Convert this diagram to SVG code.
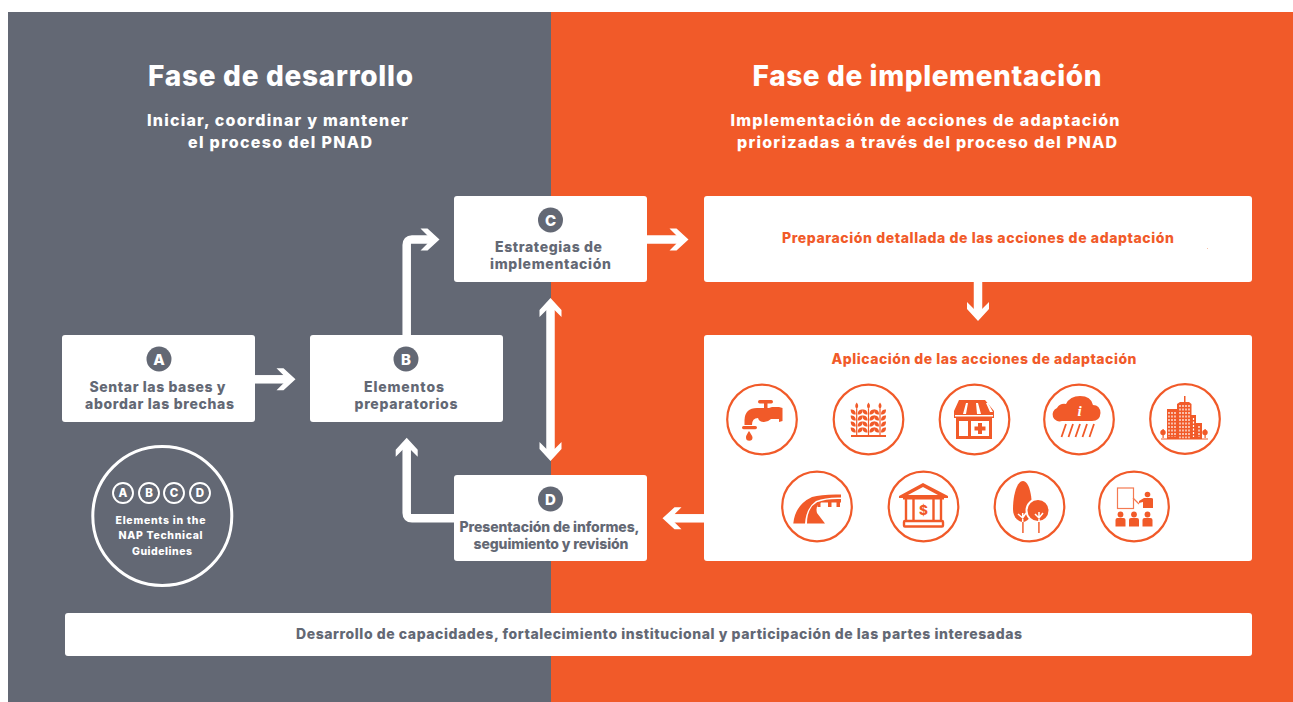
<svg xmlns="http://www.w3.org/2000/svg" width="1293" height="702" viewBox="0 0 1293 702">
<style>
text{font-family:"Inter","Roboto","Liberation Sans",sans-serif;font-weight:800;text-anchor:middle}
.w{fill:#fff}.g{fill:#636874}.o{fill:#f15a29}
.box{fill:#fff}
.t{font-size:14px;fill:#636874}
.h1{font-size:28px;fill:#fff}
.h2{font-size:16px;fill:#fff}
.ot{font-size:14px;fill:#f15a29}
.badge{font-size:15px;font-weight:800;fill:#fff}
.ring{fill:none;stroke:#f15a29;stroke-width:2.200}
.cw{fill:none;stroke:#fff;stroke-width:8.500}
.hd{fill:#fff}
.mini{fill:none;stroke:#fff;stroke-width:1.900}
.mt{font-size:10.500px;fill:#fff}
.s{font-size:11.500px;font-weight:800;fill:#fff}
.ol{fill:none;stroke:#f15a29}
</style>
<defs>
<path id="hd" class="hd" d="M0 0L-12-11H-19L-12-4V4L-19 11H-12Z"/>
<g id="wheat" class="o">
<path d="M-.6-27h1.200V0h-1.200Z"/>
<path d="M0-33C2-30.500 2-28.500 0-26.500C-2-28.500-2-30.500 0-33Z"/>
<g id="lp"><path d="M-1-21C-5-21-6-23-6-26C-3-26-1-25-1-21Z"/><path d="M1-21C5-21 6-23 6-26C3-26 1-25 1-21Z"/></g>
<use href="#lp" y="6"/><use href="#lp" y="12"/><use href="#lp" y="18"/>
</g>
<g id="person" class="o"><circle cx="0" cy="-6" r="2.900"/><path d="M-5 6V-.5Q-5-2.500-3-2.500H3Q5-2.500 5-.5V6Z"/></g>
</defs>
<rect id="bg-dev" x="8" y="12" width="543" height="690" class="g"/>
<rect id="bg-impl" x="551" y="12" width="742" height="690" class="o"/>
<g id="headings">
<text class="h1" x="280.500" y="86" textLength="265" lengthAdjust="spacing">Fase de desarrollo</text>
<text class="h2" x="277.500" y="126" textLength="261" lengthAdjust="spacing">Iniciar, coordinar y mantener</text>
<text class="h2" x="280" y="148" textLength="184" lengthAdjust="spacing">el proceso del PNAD</text>
<text class="h1" x="927" y="86" textLength="349" lengthAdjust="spacing">Fase de implementación</text>
<text class="h2" x="925" y="126" textLength="389" lengthAdjust="spacing">Implementación de acciones de adaptación</text>
<text class="h2" x="927" y="148" textLength="380" lengthAdjust="spacing">priorizadas a través del proceso del PNAD</text>
</g>
<g id="connectors">
<path class="cw" d="M255 379.300H284"/><use href="#hd" transform="translate(295.500 379.300)"/>
<path class="cw" d="M406.700 335V245Q406.700 239.500 412 239.500H429"/><use href="#hd" transform="translate(439.500 239.500)"/>
<path class="cw" d="M647 239.500H678"/><use href="#hd" transform="translate(688.500 239.500)"/>
<path class="cw" d="M978 282V310"/><use href="#hd" transform="translate(978 321) rotate(90)"/>
<path class="cw" d="M550.500 309V450"/><use href="#hd" transform="translate(550.500 298) rotate(-90)"/><use href="#hd" transform="translate(550.500 461) rotate(90)"/>
<path class="cw" d="M704 518.300H673"/><use href="#hd" transform="translate(662.500 518.300) rotate(180)"/>
<path class="cw" d="M454 518.300H412Q406.700 518.300 406.700 513V449"/><use href="#hd" transform="translate(406.700 437.700) rotate(-90)"/>
</g>
<g id="node-a"><rect class="box" x="62" y="335" width="193" height="87" rx="3"/><circle class="g" cx="159" cy="359" r="12.500"/><text class="badge" x="159" y="364.500">A</text><text class="t" x="157.500" y="392" textLength="136" lengthAdjust="spacing">Sentar las bases y</text><text class="t" x="159.500" y="409" textLength="149" lengthAdjust="spacing">abordar las brechas</text></g>
<g id="node-b"><rect class="box" x="310" y="335" width="193" height="87" rx="3"/><circle class="g" cx="406" cy="359" r="12.500"/><text class="badge" x="406" y="364.500">B</text><text class="t" x="404" y="392" textLength="80" lengthAdjust="spacing">Elementos</text><text class="t" x="406" y="409" textLength="103" lengthAdjust="spacing">preparatorios</text></g>
<g id="node-c"><rect class="box" x="454" y="196" width="193" height="86" rx="3"/><circle class="g" cx="550.500" cy="220" r="12.500"/><text class="badge" x="550.500" y="225.500">C</text><text class="t" x="548.500" y="252" textLength="107" lengthAdjust="spacing">Estrategias de</text><text class="t" x="550.500" y="269" textLength="121" lengthAdjust="spacing">implementación</text></g>
<g id="node-d"><rect class="box" x="454" y="475" width="193" height="86" rx="3"/><circle class="g" cx="550.500" cy="499" r="12.500"/><text class="badge" x="550.500" y="504.500">D</text><text class="t" x="549.500" y="532" textLength="180" lengthAdjust="spacing">Presentación de informes,</text><text class="t" x="551" y="549" textLength="155" lengthAdjust="spacing">seguimiento y revisión</text></g>
<g id="node-prep"><rect class="box" x="704" y="196" width="548" height="86" rx="3"/><text class="ot" x="978" y="243" textLength="392" lengthAdjust="spacing">Preparación detallada de las acciones de adaptación</text><rect x="1207" y="248" width="1" height="1" fill="#f9c0a8"/></g>
<g id="node-apply"><rect class="box" x="704" y="335" width="548" height="226" rx="3"/><text class="ot" x="984" y="363.500" textLength="305" lengthAdjust="spacing">Aplicación de las acciones de adaptación</text>
<circle class="ring" cx="762" cy="419.500" r="34.800"/>
<circle class="ring" cx="868.500" cy="419.500" r="34.800"/>
<circle class="ring" cx="974.500" cy="419.500" r="34.800"/>
<circle class="ring" cx="1079" cy="419.500" r="34.800"/>
<circle class="ring" cx="1185" cy="419" r="34.800"/>
<circle class="ring" cx="817" cy="506.500" r="34.800"/>
<circle class="ring" cx="923.500" cy="506.500" r="34.800"/>
<circle class="ring" cx="1029.500" cy="506.500" r="34.800"/>
<circle class="ring" cx="1134" cy="506.500" r="34.800"/>
<g id="icon-tap" class="o">
<rect x="758" y="400" width="15" height="3.500" rx="1.700"/><rect x="764" y="402" width="3.500" height="6"/>
<path d="M744.500 425V420Q745 408 757 408H769L772 407H779L782.500 408V421L779 422V419H771Q768 422 764 422Q759 422 758 418Q752 418 752 425Z"/>
<rect x="742" y="426" width="15" height="3.200" rx="1.600"/>
<path d="M749 431C746.500 435 746 436 746 437.500A3.200 3.200 0 0 0 752.500 437.500C752.500 436 751.500 435 749 431Z"/>
</g>
<g id="icon-wheat"><use href="#wheat" x="856.700" y="435.500"/><use href="#wheat" x="868.500" y="435.500"/><use href="#wheat" x="880" y="435.500"/><rect class="o" x="851" y="435" width="35" height="2"/></g>
<g id="icon-shop"><path class="o" d="M959 400H985L994 411V418H992V439H956V418H954V411Z"/><path fill="#fff" d="M966 403H968L966 414H963ZM976 403H978L981 414H977ZM986 403H988L993 412H990Z"/><rect x="955" y="415" width="38" height="1.500" fill="#fff"/><rect x="959" y="421" width="9" height="15" fill="#fff"/><rect x="971" y="421" width="18" height="15" fill="#fff"/><path class="o" d="M978 423h4v3.500h3.500v4h-3.500v3.500h-4v-3.500h-3.500v-4h3.500Z"/></g>
<g id="icon-rain"><path class="o" d="M1062 421A6.500 6.500 0 0 1 1057 408Q1060 403 1066 404Q1070 396 1080 396Q1091 396 1093 405Q1100 405 1100.500 413Q1100 421 1092 421Z"/><text x="1079.500" y="416" font-size="15" fill="#fff" style="font-family:'Liberation Serif',serif;font-style:italic">i</text><path stroke="#f15a29" stroke-width="1.800" d="M1061.500 437L1066 424M1068.500 437L1073 424M1075.500 437L1080 424M1082.500 437L1087 424M1089.500 437L1094 424"/></g>
<g id="icon-city"><path class="o" d="M1167 409H1177V404L1180 402H1184V396H1185.500V402L1189 402L1191.500 404V415H1196V423H1202V439H1167Z"/><path d="M1169 412v25M1172 412v25M1175 412v25M1180 405v34M1183 405v34M1186 405v34M1189 405v34M1193.500 418v19M1199 426v11" stroke="#fff" stroke-width="1.200" stroke-dasharray="2 1.500"/><rect class="o" x="1162.500" y="429" width="1.200" height="9"/><circle class="o" cx="1163" cy="432.500" r="2.700"/><rect class="o" x="1204.500" y="429" width="1.200" height="9"/><circle class="o" cx="1205" cy="432.500" r="2.700"/><rect class="o" x="1161" y="438.500" width="47" height="1"/></g>
<g id="icon-road" class="o"><path d="M793.300 523.500Q795 505 812 497Q822 494 841 494.500V497.500Q826 497 816 501Q806 508 805 523.500Z"/><path d="M807 523.500Q807 508 817 502.300Q826 498.500 841 499V502.500H821Q815 506 817 513L825 523.500Z"/><rect x="817.500" y="502" width="3" height="5"/><rect x="828" y="502" width="3.500" height="5"/><rect x="836.500" y="502" width="3.500" height="5"/></g>
<g id="icon-bank"><path class="o" d="M923 483L948 496V498H899V496ZM923 487L908 495H938Z"/><path class="ol" stroke-width="2.400" d="M906 499V522M913.500 499V522M933.500 499V522M941 499V522"/><rect class="o" x="903" y="498" width="41" height="1.500"/><rect class="ol" stroke-width="2.400" x="904" y="521" width="39" height="5.500" rx="1"/><text x="923.500" y="514.500" font-size="13.500" class="o">$</text></g>
<g id="icon-trees"><path class="o" d="M1023 481C1029 481 1032 495 1032 509C1032 517 1027 522 1023 522C1018 522 1013 517 1013 509C1013 495 1017 481 1023 481Z"/><circle class="o" cx="1038" cy="510.500" r="11.500" stroke="#fff" stroke-width="2"/><path stroke="#fff" stroke-width="1.500" fill="none" d="M1022.700 513V522M1018 514L1022.700 518L1026 513M1039 512V522M1035 514L1039 518L1043 513"/><rect x="1022" y="522" width="1.800" height="11" fill="#f47a52"/><rect x="1038" y="522" width="1.800" height="11" fill="#f47a52"/></g>
<g id="icon-class"><rect x="1117.500" y="488" width="16" height="20.500" fill="none" stroke="#f47a52" stroke-width="1.200"/><path stroke="#f47a52" stroke-width="1.200" d="M1133 498L1139 504"/><path class="o" d="M1139 503L1143 502V508H1153V499Q1153 498 1151 498H1144L1139 501Z"/><circle class="o" cx="1147.500" cy="494.500" r="2.800"/><use href="#person" x="1120.500" y="520.500"/><use href="#person" x="1134" y="520.500"/><use href="#person" x="1147.500" y="520.500"/></g>
</g>
<g id="node-legend">
<circle cx="162.300" cy="516" r="69.500" fill="none" stroke="#fff" stroke-width="3"/>
<circle class="mini" cx="123" cy="493" r="10"/><circle class="mini" cx="149" cy="493" r="10"/><circle class="mini" cx="174" cy="493" r="10"/><circle class="mini" cx="200" cy="493" r="10"/>
<text class="s" x="123" y="497">A</text><text class="s" x="149" y="497">B</text><text class="s" x="174" y="497">C</text><text class="s" x="200" y="497">D</text>
<text class="mt" x="160.500" y="524" textLength="90" lengthAdjust="spacing">Elements in the</text>
<text class="mt" x="160.500" y="539" textLength="84" lengthAdjust="spacing">NAP Technical</text>
<text class="mt" x="162" y="555" textLength="60" lengthAdjust="spacing">Guidelines</text>
</g>
<g id="node-capacity"><rect class="box" x="65" y="613" width="1187" height="43" rx="3"/><text class="t" x="659" y="639" textLength="726" lengthAdjust="spacing">Desarrollo de capacidades, fortalecimiento institucional y participación de las partes interesadas</text></g>
</svg>
